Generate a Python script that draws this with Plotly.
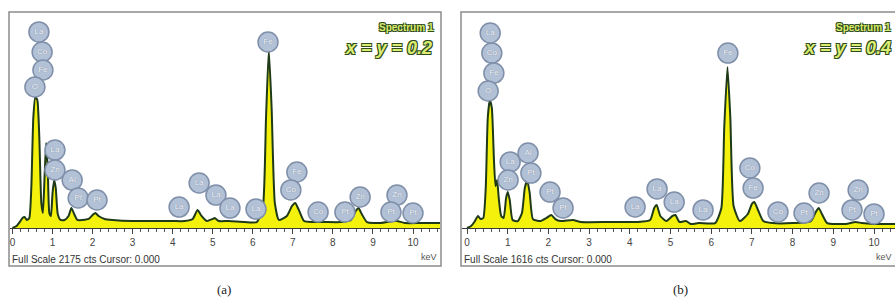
import plotly.graph_objects as go

W, H = 895, 299

# ---------------- Panel (a): x = y = 0.2 ----------------
a_full_scale = 2175
a_kev = [0.00,0.10,0.18,0.25,0.30,0.36,0.42,0.47,0.52,0.57,
         0.62,0.67,0.72,0.76,0.80,0.84,0.88,0.92,0.96,1.00,
         1.04,1.08,1.13,1.20,1.30,1.40,1.47,1.54,1.62,1.75,
         1.90,2.00,2.07,2.15,2.30,2.50,3.00,3.50,4.00,4.30,
         4.50,4.62,4.72,4.85,5.00,5.05,5.15,5.40,5.80,6.10,
         6.25,6.33,6.40,6.47,6.55,6.65,6.85,6.98,7.06,7.15,
         7.28,7.50,7.80,8.20,8.45,8.57,8.64,8.72,8.85,9.20,
         9.50,9.60,9.80,10.20,10.70]
a_cts = [0,20,60,101,111,81,101,403,1108,1319,
         1289,906,252,151,504,856,604,151,121,352,
         483,403,141,81,81,121,201,141,81,81,
         91,131,151,121,91,81,70,70,70,70,
         91,181,121,70,91,101,70,70,60,60,
         201,1108,1792,1208,252,81,121,222,252,181,
         70,60,60,60,81,171,201,141,60,50,
         70,70,50,50,50]
a_lbl = ["La","Co","Fe","O","La","Zn","Al","Pt","Pt","La","La","La","La","La",
         "Fe","Fe","Co","Co","Pt","Zn","Zn","Pt","Pt"]
a_lbl_kev = [0.66,0.74,0.76,0.56,1.06,1.06,1.49,1.64,2.11,4.16,4.66,5.08,5.43,6.08,
             6.38,7.10,6.95,7.63,8.30,8.68,9.60,9.45,10.0]
a_lbl_cts = [1974,1772,1591,1420,785,584,483,302,282,211,453,332,201,191,
             1873,564,383,161,161,312,332,161,151]

# ---------------- Panel (b): x = y = 0.4 ----------------
b_full_scale = 1616
b_kev = [0.00,0.10,0.18,0.27,0.33,0.40,0.46,0.51,0.56,0.61,
         0.66,0.70,0.74,0.78,0.84,0.90,0.96,1.00,1.05,1.12,
         1.25,1.35,1.42,1.48,1.54,1.62,1.80,1.95,2.07,2.17,
         2.30,2.60,2.80,3.50,4.20,4.50,4.60,4.66,4.75,4.90,
         5.05,5.12,5.22,5.38,5.50,5.70,6.10,6.25,6.32,6.40,
         6.47,6.55,6.70,6.90,7.00,7.06,7.15,7.28,7.50,8.00,
         8.45,8.57,8.64,8.72,8.85,9.30,9.55,9.70,10.00,10.52]
b_cts = [0,15,45,90,67,75,299,823,957,898,
         524,314,359,224,90,75,224,269,209,60,
         52,112,299,359,262,67,52,75,97,67,
         52,60,45,45,45,60,150,172,90,52,
         90,97,45,52,30,37,37,150,748,1204,
         823,165,52,105,180,194,135,52,37,37,
         52,120,150,105,37,30,45,37,30,30]
b_lbl = ["La","Co","Fe","O","La","Zn","Al","Pt","Pt","Pt","La","La","La","La",
         "Fe","Co","Fe","Co","Pt","Zn","Zn","Pt","Pt"]
b_lbl_kev = [0.57,0.61,0.66,0.52,1.06,1.01,1.50,1.57,2.04,2.36,4.13,4.67,5.09,5.80,
             6.41,6.95,7.03,7.64,8.28,8.65,9.61,9.46,10.0]
b_lbl_cts = [1459,1309,1159,1025,494,359,561,411,269,150,157,292,194,135,
             1309,449,299,120,112,262,284,135,105]

tick_vals = list(range(0, 11))
tick_text = [str(v) for v in tick_vals]

def px(x):
    return x / W

def py(y):
    return 1 - y / H

fig = go.Figure()

panels = [
    dict(kev=a_kev, cts=a_cts, lk=a_lbl_kev, lc=a_lbl_cts, lt=a_lbl, fs=a_full_scale,
         xa="x", ya="y", dom=[px(10), px(440)], rng=[-0.062, 10.674]),
    dict(kev=b_kev, cts=b_cts, lk=b_lbl_kev, lc=b_lbl_cts, lt=b_lbl, fs=b_full_scale,
         xa="x2", ya="y2", dom=[px(462), 1.0], rng=[-0.123, 10.516]),
]

for p in panels:
    fig.add_trace(go.Scatter(
        x=p["kev"], y=p["cts"], mode="lines", xaxis=p["xa"], yaxis=p["ya"],
        line=dict(color="#1e3a18", width=2, shape="spline", smoothing=0.5),
        fill="tozeroy", fillcolor="#f4f20c", hoverinfo="skip", showlegend=False))
    fig.add_trace(go.Scatter(
        x=p["lk"], y=p["lc"], mode="markers+text", text=p["lt"],
        xaxis=p["xa"], yaxis=p["ya"], cliponaxis=False,
        marker=dict(size=20, color="#b3c1d6", line=dict(color="#7f8fa9", width=1.5)),
        textposition="middle center",
        textfont=dict(family="Liberation Sans, Arial", size=8, color="#f4f6fa",
                      shadow="0px 0px 1px #6a7890"),
        hoverinfo="skip", showlegend=False))

axis_common = dict(
    tickmode="array", tickvals=tick_vals, ticktext=tick_text,
    showgrid=False, zeroline=False, showline=True, linecolor="#3a3a3a", linewidth=1,
    ticks="outside", ticklen=5, tickcolor="#444", tickwidth=1,
    minor=dict(dtick=0.2, ticks="outside", ticklen=3, tickcolor="#555"),
    tickfont=dict(family="Liberation Sans, Arial", size=10, color="#444"),
    fixedrange=True,
)
ydom = [py(228), py(12)]

fig.update_layout(
    width=W, height=H, margin=dict(l=0, r=0, t=0, b=0),
    paper_bgcolor="white", plot_bgcolor="white",
    xaxis=dict(domain=panels[0]["dom"], range=panels[0]["rng"], anchor="y", **axis_common),
    yaxis=dict(domain=ydom, range=[0, a_full_scale], visible=False, anchor="x", fixedrange=True),
    xaxis2=dict(domain=panels[1]["dom"], range=panels[1]["rng"], anchor="y2", **axis_common),
    yaxis2=dict(domain=ydom, range=[0, b_full_scale], visible=False, anchor="x2", fixedrange=True),
)

# frames
fig.add_shape(type="rect", xref="paper", yref="paper",
              x0=px(9), x1=px(441), y0=py(266), y1=py(12),
              line=dict(color="#8c8c8c", width=1.5), layer="below")
fig.add_shape(type="rect", xref="paper", yref="paper",
              x0=px(461), x1=px(905), y0=py(266), y1=py(12),
              line=dict(color="#8c8c8c", width=1.5), layer="below")

outline = ("1px 1px 0 #2e4c1c, -1px -1px 0 #2e4c1c, 1px -1px 0 #2e4c1c, "
           "-1px 1px 0 #2e4c1c")
ann = []
for right_spec, right_comp, comp, fs_val, fs_x, kev_x in [
        (436, 434, "x = y = 0.2", a_full_scale, 10, 439),
        (893, 893, "x = y = 0.4", b_full_scale, 462, 894)]:
    ann.append(dict(x=px(right_spec), y=py(28), xref="paper", yref="paper",
                    text="<b>Spectrum 1</b>", showarrow=False, xanchor="right", yanchor="middle",
                    font=dict(family="Liberation Sans, Arial", size=10, color="#d9ea6a",
                              shadow=outline)))
    ann.append(dict(x=px(right_comp), y=py(48), xref="paper", yref="paper",
                    text="<b><i>" + comp + "</i></b>", showarrow=False, xanchor="right",
                    yanchor="middle",
                    font=dict(family="Liberation Sans, Arial", size=18, color="#dcec72",
                              shadow=outline)))
    ann.append(dict(x=px(fs_x), y=py(259), xref="paper", yref="paper",
                    text="Full Scale %d cts Cursor: 0.000" % fs_val, showarrow=False,
                    xanchor="left", yanchor="middle",
                    font=dict(family="Liberation Sans, Arial", size=10, color="#333")))
    ann.append(dict(x=px(kev_x), y=py(257), xref="paper", yref="paper",
                    text="keV", showarrow=False, xanchor="right", yanchor="middle",
                    font=dict(family="Liberation Sans, Arial", size=9, color="#555")))

ann.append(dict(x=px(224), y=py(289), xref="paper", yref="paper", text="(a)", showarrow=False,
                xanchor="center", yanchor="middle",
                font=dict(family="Liberation Serif, Times New Roman", size=13, color="#222")))
ann.append(dict(x=px(680), y=py(289), xref="paper", yref="paper", text="(b)", showarrow=False,
                xanchor="center", yanchor="middle",
                font=dict(family="Liberation Serif, Times New Roman", size=13, color="#222")))
fig.update_layout(annotations=ann)

fig.write_html("out.html", config={"displayModeBar": False, "staticPlot": True},
               post_script="document.body.style.margin='0';document.body.style.overflow='hidden';")
